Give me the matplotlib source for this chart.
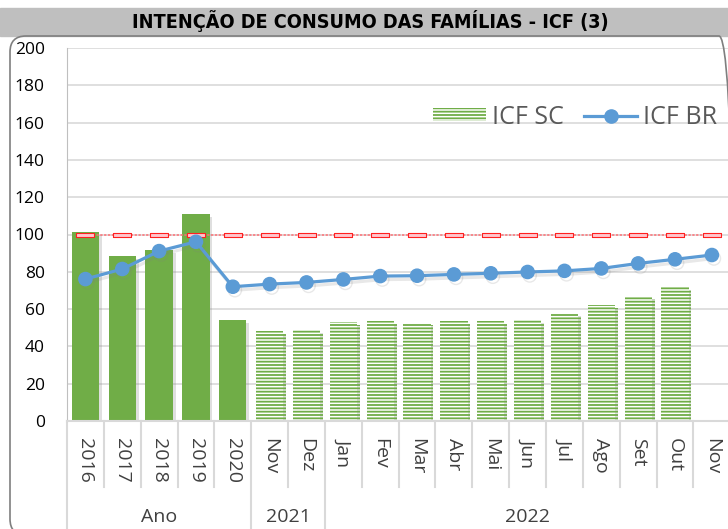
import matplotlib.pyplot as plt
import matplotlib.patheffects as pe
from matplotlib.patches import FancyBboxPatch, Rectangle, Patch
from matplotlib.lines import Line2D
import numpy as np

plt.rcParams['font.family'] = ['Open Sans', 'DejaVu Sans']
plt.rcParams['hatch.linewidth'] = 1.3

# dados do gráfico
categorias = ['2016', '2017', '2018', '2019', '2020', 'Nov', 'Dez', 'Jan', 'Fev', 'Mar',
              'Abr', 'Mai', 'Jun', 'Jul', 'Ago', 'Set', 'Out', 'Nov']
grupos = ['Ano', '2021', '2022']
tamanho_grupos = [5, 2, 11]
icf_sc = [101.1, 88.4, 91.6, 110.9, 54.1, 48.4, 48.8, 53.2, 53.7, 52.7, 53.6, 53.6,
          54.1, 57.7, 62.2, 66.8, 71.7, np.nan]
icf_br = [76.1, 81.5, 91.1, 96.1, 72.0, 73.4, 74.3, 75.9, 77.7, 77.9, 78.6, 79.2,
          79.9, 80.5, 81.8, 84.5, 86.7, 89.0]
nivel_neutro = [100] * len(categorias)

verde = '#70ad47'
azul = '#5b9bd5'
cinza_grade = '#d9d9d9'

fig = plt.figure(figsize=(7.28, 5.29), dpi=100)
ax = fig.add_axes([67 / 728, 108 / 529, 663.3 / 728, 373 / 529])

x = np.arange(len(categorias))
sc = np.array(icf_sc)
anual = x < tamanho_grupos[0]
mensal = (~anual) & ~np.isnan(sc)

sombra_barra = [pe.SimplePatchShadow(offset=(2, -2), shadow_rgbFace='gray', alpha=0.25), pe.Normal()]
sombra_linha = [pe.SimpleLineShadow(offset=(1.5, -2.5), shadow_color='gray', alpha=0.18), pe.Normal()]

# barras: médias anuais cheias, meses listrados
ax.bar(x[anual], sc[anual], width=0.74, color=verde, zorder=2, path_effects=sombra_barra)
ax.bar(x[mensal], sc[mensal], width=0.74, facecolor='white', edgecolor=verde,
       hatch='-----', linewidth=0, zorder=2, path_effects=sombra_barra)

# linha de referência em 100
ref_marker = [(-1.9, -0.5), (1.9, -0.5), (1.9, 0.5), (-1.9, 0.5), (-1.9, -0.5)]
ax.plot(x, nivel_neutro, color='#ff6f75', lw=1.1, ls=(0, (1.5, 1)), marker=ref_marker,
        ms=13, mfc='#ffc7ce', mec='#ff2020', mew=0.8, zorder=3)

# linha do ICF Brasil
ax.plot(x, icf_br, color=azul, lw=2.3, marker='o', ms=9.5, zorder=4,
        path_effects=sombra_linha)

ax.set_xlim(-0.5, len(categorias) - 0.5)
ax.set_ylim(0, 200)
ax.set_yticks(np.arange(0, 201, 20))
ax.tick_params(axis='y', length=0, pad=16, labelsize=12.5, labelcolor='black')
ax.set_xticks(x)
ax.set_xticklabels(categorias, rotation=270)
ax.tick_params(axis='x', length=0, pad=12, labelsize=14, labelcolor='#404040')
ax.grid(axis='y', color=cinza_grade, lw=1.2, zorder=0)
ax.set_axisbelow(True)
for lado in ['top', 'right']:
    ax.spines[lado].set_visible(False)
ax.spines['left'].set_color('#bfbfbf')
ax.spines['bottom'].set_color(cinza_grade)
ax.spines['bottom'].set_linewidth(1.5)

# divisórias do eixo de categorias
limites = np.cumsum([0] + tamanho_grupos) - 0.5
trans = ax.get_xaxis_transform()
for b in np.arange(len(categorias) + 1) - 0.5:
    fundo = -0.30 if b in limites else -0.177
    ax.add_line(Line2D([b, b], [0, fundo], color=cinza_grade, lw=1.5,
                       transform=trans, clip_on=False))
for g, ini, fim in zip(grupos, limites[:-1], limites[1:]):
    ax.text((ini + fim) / 2, -0.257, g, transform=trans, ha='center', va='center',
            fontsize=14, color='#404040')

# legenda
handles = [Patch(facecolor='white', edgecolor=verde, hatch='-----', lw=0),
           Line2D([], [], color=azul, lw=2.3, marker='o', ms=9.5)]
ax.legend(handles, ['ICF SC', 'ICF BR'], ncol=2, loc='center left',
          bbox_to_anchor=(0.552, 0.815), frameon=False, fontsize=18,
          labelcolor='#595959', borderpad=0, borderaxespad=0,
          handlelength=2.12, handleheight=0.45, handletextpad=0.24, columnspacing=0.8)

# faixa do título e moldura arredondada
fig.add_artist(Rectangle((0, 1 - 36 / 529), 1, 28 / 529, transform=fig.transFigure,
                         color='#bfbfbf', zorder=0))
fig.text(0.508, 1 - 21 / 529, 'INTENÇÃO DE CONSUMO DAS FAMÍLIAS - ICF (3)',
         ha='center', va='center', fontsize=14.2, fontweight='bold',
         fontstretch='condensed', family='DejaVu Sans')
fig.add_artist(FancyBboxPatch((0.10, -0.06), 7.25, 4.99,
                              boxstyle='round,pad=0,rounding_size=0.16',
                              transform=fig.dpi_scale_trans, fill=False,
                              ec='#7f7f7f', lw=1.2))

fig.savefig('out.png', dpi=100)
